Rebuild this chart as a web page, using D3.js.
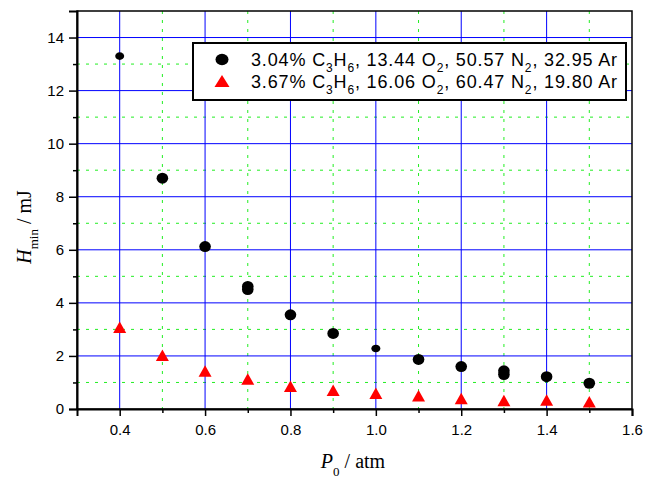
<!DOCTYPE html>
<html><head><meta charset="utf-8">
<script src="https://cdn.jsdelivr.net/npm/d3@7"></script>
<style>body{margin:0;background:#fff}svg{display:block}</style>
</head><body>
<svg id="c" width="645" height="480"></svg>
<script>
// Data
const pressure1 = [0.4, 0.5, 0.6, 0.7, 0.7, 0.8, 0.9, 1.0, 1.1, 1.2, 1.3, 1.3, 1.4, 1.5];
const hmin1     = [13.3, 8.7, 6.12, 4.62, 4.5, 3.55, 2.85, 2.28, 1.87, 1.6, 1.44, 1.3, 1.22, 0.97];
const size1     = ["s", "n", "n", "n", "n", "n", "n", "s", "n", "n", "n", "n", "n", "n"];
const pressure2 = [0.4, 0.5, 0.6, 0.7, 0.8, 0.9, 1.0, 1.1, 1.2, 1.3, 1.4, 1.5];
const hmin2     = [3.08, 2.03, 1.43, 1.13, 0.86, 0.71, 0.59, 0.5, 0.4, 0.32, 0.34, 0.27];
const xMajor = [0.4, 0.6, 0.8, 1.0, 1.2, 1.4, 1.6];
const xMinor = [0.3, 0.5, 0.7, 0.9, 1.1, 1.3, 1.5];
const yMajor = [0, 2, 4, 6, 8, 10, 12, 14];
const yMinor = [1, 3, 5, 7, 9, 11, 13];
const legendLabels = [
  [["3.04% C",""],["3","sub"],["H",""],["6","sub"],[", 13.44 O",""],["2","sub"],[", 50.57 N",""],["2","sub"],[", 32.95 Ar",""]],
  [["3.67% C",""],["3","sub"],["H",""],["6","sub"],[", 16.06 O",""],["2","sub"],[", 60.47 N",""],["2","sub"],[", 19.80 Ar",""]]
];

const svg = d3.select("#c");
const L = 77, R = 632, T = 11, B = 409;
const x = d3.scaleLinear().domain([0.3, 1.6]).range([L, R]);
const y = d3.scaleLinear().domain([0, 15]).range([B, T]);
const sans = "'Liberation Sans', Arial, sans-serif";
const serif = "'Liberation Serif', 'Times New Roman', serif";

// grid
const g = svg.append("g");
const green = "#22ee22";
g.selectAll(".gmx").data(xMinor.filter(d => d > 0.3)).enter().append("line")
  .attr("x1", d => x(d)).attr("x2", d => x(d)).attr("y1", T).attr("y2", B)
  .attr("stroke", green).attr("stroke-width", 1).attr("stroke-dasharray", "3,6");
g.selectAll(".gmy").data(yMinor).enter().append("line")
  .attr("x1", L).attr("x2", R).attr("y1", d => y(d)).attr("y2", d => y(d))
  .attr("stroke", green).attr("stroke-width", 1).attr("stroke-dasharray", "3,6");
g.selectAll(".gx").data(xMajor.filter(d => d < 1.6)).enter().append("line")
  .attr("x1", d => x(d)).attr("x2", d => x(d)).attr("y1", T).attr("y2", B)
  .attr("stroke", "#0000ff").attr("stroke-width", 1);
g.selectAll(".gy").data(yMajor.filter(d => d > 0)).enter().append("line")
  .attr("x1", L).attr("x2", R).attr("y1", d => y(d)).attr("y2", d => y(d))
  .attr("stroke", "#0000ff").attr("stroke-width", 1);

// frame
svg.append("rect").attr("x", L).attr("y", T).attr("width", R - L).attr("height", B - T)
  .attr("fill", "none").attr("stroke", "#000").attr("stroke-width", 1.5);

// axes
const xAxis = d3.axisBottom(x).tickValues(xMajor).tickFormat(d3.format(".1f")).tickSize(7).tickPadding(8);
svg.append("g").attr("transform", `translate(0,${B})`).call(xAxis);
svg.append("g").attr("transform", `translate(0,${B})`)
  .call(d3.axisBottom(x).tickValues(xMinor.filter(d => d > 0.3)).tickSize(4).tickFormat(""))
  .call(s => s.select(".domain").remove());
const yAxis = d3.axisLeft(y).tickValues(yMajor).tickFormat(d3.format("d")).tickSize(8).tickPadding(5);
svg.append("g").attr("transform", `translate(${L},0)`).call(yAxis);
svg.append("g").attr("transform", `translate(${L},0)`)
  .call(d3.axisLeft(y).tickValues(yMinor).tickSize(4).tickFormat(""))
  .call(s => s.select(".domain").remove());
svg.selectAll(".domain").attr("stroke-width", 2).attr("stroke", "#000");
svg.selectAll(".tick line").attr("stroke-width", 1.5).attr("stroke", "#000");
svg.selectAll(".tick text").attr("font-family", sans).attr("font-size", 15).attr("fill", "#000");

// axis titles
const xt = svg.append("text").attr("x", 353).attr("y", 468).attr("text-anchor", "middle")
  .attr("font-family", serif).attr("font-size", 20).attr("fill", "#000");
xt.append("tspan").attr("font-style", "italic").text("P");
xt.append("tspan").attr("font-size", 13).attr("dy", 8).text("0");
xt.append("tspan").attr("dy", -8).text(" / atm");

const yt = svg.append("text").attr("transform", "translate(31,227) rotate(-90)").attr("text-anchor", "middle")
  .attr("font-family", serif).attr("font-size", 20).attr("fill", "#000");
yt.append("tspan").attr("font-style", "italic").text("H");
yt.append("tspan").attr("font-size", 13).attr("dy", 7).text("min");
yt.append("tspan").attr("dy", -7).text(" / mJ");

// markers
const tri = (cx, cy, w, h) => `M${cx},${cy - h / 2}L${cx + w / 2},${cy + h / 2}L${cx - w / 2},${cy + h / 2}Z`;
svg.append("g").selectAll("ellipse").data(pressure1.map((p, i) => ({p, v: hmin1[i], s: size1[i]}))).enter()
  .append("ellipse").attr("cx", d => x(d.p)).attr("cy", d => y(d.v))
  .attr("rx", d => d.s === "s" ? 4.5 : 5.8).attr("ry", d => d.s === "s" ? 3.8 : 5.5).attr("fill", "#000");
svg.append("g").selectAll("path").data(pressure2.map((p, i) => ({p, v: hmin2[i]}))).enter()
  .append("path").attr("d", d => tri(x(d.p), y(d.v), 13, 11.5)).attr("fill", "#ff0000");

// legend
const lg = svg.append("g");
lg.append("rect").attr("x", 193).attr("y", 43).attr("width", 433).attr("height", 57)
  .attr("fill", "#fff").attr("stroke", "#000").attr("stroke-width", 2);
lg.append("ellipse").attr("cx", 222).attr("cy", 59.5).attr("rx", 6.5).attr("ry", 5.8).attr("fill", "#000");
lg.append("path").attr("d", tri(222, 81, 15, 12)).attr("fill", "#ff0000");
legendLabels.forEach((parts, i) => {
  const t = lg.append("text").attr("x", 251).attr("y", 65.5 + i * 22.5)
    .attr("font-family", sans).attr("font-size", 18).attr("letter-spacing", 0.85).attr("fill", "#000");
  let prevSub = false;
  parts.forEach(([txt, kind]) => {
    const sp = t.append("tspan").text(txt);
    if (kind === "sub") { sp.attr("font-size", 12).attr("dy", prevSub ? 0 : 6); prevSub = true; }
    else { sp.attr("dy", prevSub ? -6 : 0); prevSub = false; }
  });
});
</script>
</body></html>
